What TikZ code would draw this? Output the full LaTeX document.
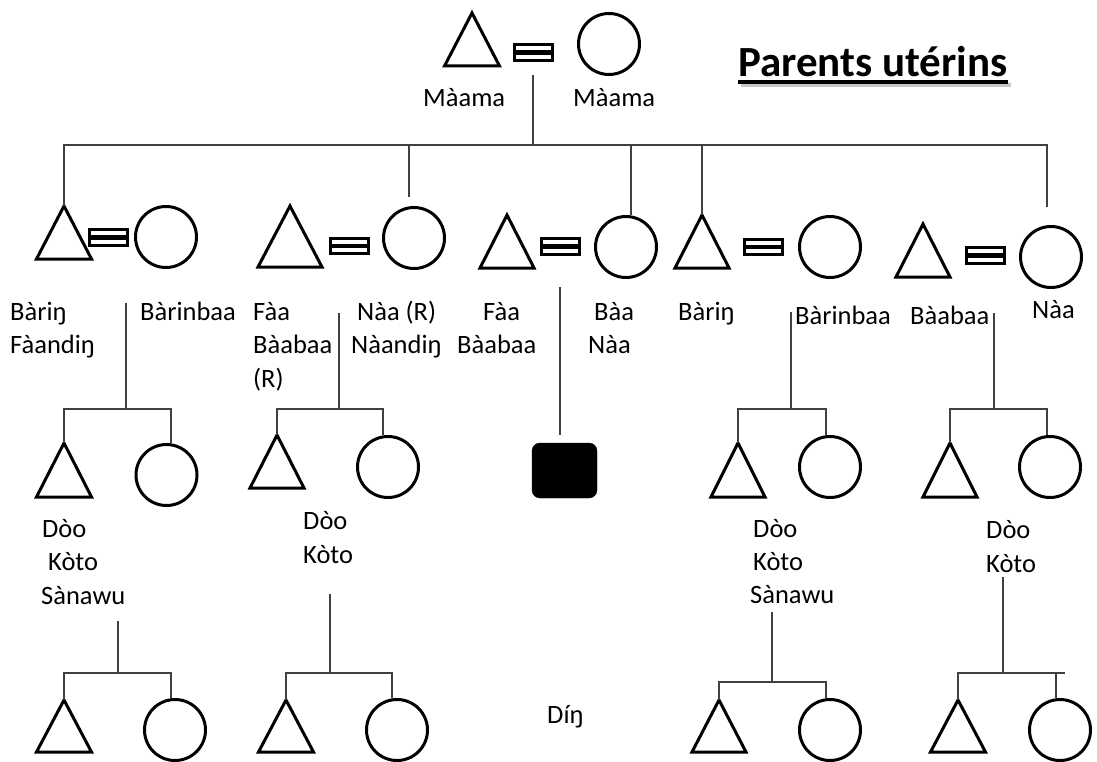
\documentclass[tikz,border=0pt]{standalone}
\usepackage{fontspec}
\setmainfont{Carlito}
\newcommand\trig[4]{\coordinate (#1) at (#2);\draw[shp] (#1) -- ++({#3/2},{#4}) -- ++({-#3},0) -- cycle;}
\begin{document}
\begin{tikzpicture}[x=1pt,y=-1pt,
  conn/.style={draw=black!75,line width=1.3pt},
  shp/.style={draw=black,line width=3pt,line join=miter},
  circ/.style={circle,draw=black,line width=3pt,minimum size=61pt,inner sep=0pt},
  eqbox/.style={rectangle,draw=black,line width=3pt,fill=white,minimum width=38pt,minimum height=15.5pt,inner sep=0pt,
    path picture={\fill[black] ([yshift=-2.25pt]path picture bounding box.west) rectangle ([yshift=2.25pt]path picture bounding box.east);}},
  lbl/.style={anchor=base west,inner sep=0pt,font=\fontsize{26.5}{32}\selectfont},
  ttl/.style={anchor=base west,inner sep=0pt,font=\fontsize{43}{50}\selectfont\bfseries},
  blk/.style={rectangle,rounded corners=8pt,fill=black,draw=black,minimum width=65pt,minimum height=55pt,inner sep=0pt}]
\useasboundingbox (0,0) rectangle (1097,762);
% title
\node[ttl] (ttl) at (738,77) {Parents utérins};
\draw[line width=4pt,black!22] ([xshift=3pt,yshift=-8pt]ttl.base west) -- ([xshift=3pt,yshift=-8pt]ttl.base east);
\draw[line width=3.5pt] ([yshift=-5pt]ttl.base west) -- ([yshift=-5pt]ttl.base east);
% generation 1
\trig{t0}{472,13}{55}{53}
\node[eqbox] (e0) at (533.5,52.5) {};
\node[circ] (c0) at (609,44) {};
\node[lbl] (l0a) at (423,107) {Màama};
\node[lbl] (l0b) at (573,107) {Màama};
\coordinate (s0) at (533,75);
\coordinate (bar0) at (533,145);
% generation 2
\trig{t1}{64,206}{55}{53}
\node[eqbox] (e1) at (108.5,237.5) {};
\node[circ] (c1) at (166,237) {};
\trig{t2}{290,206}{64}{61}
\node[eqbox] (e2) at (349,246) {};
\node[circ] (c2) at (414,238) {};
\trig{t3}{507,215}{54}{53}
\node[eqbox] (e3) at (560,246.5) {};
\node[circ] (c3) at (626,247) {};
\trig{t4}{702,215}{54}{53}
\node[eqbox] (e4) at (763.5,247) {};
\node[circ] (c4) at (830,247) {};
\trig{t5}{923,224}{54}{53}
\node[eqbox] (e5) at (985,255.5) {};
\node[circ] (c5) at (1051,257) {};
\coordinate (d2) at (409,197);
\coordinate (d3) at (631,215);
\coordinate (d5) at (1047,207);
\draw[conn] (s0) -- (bar0);
\draw[conn] (t1) -- (t1 |- bar0) -- (d5 |- bar0) -- (d5);
\draw[conn] (d2) -- (d2 |- bar0);
\draw[conn] (d3) -- (d3 |- bar0);
\draw[conn] (t4) -- (t4 |- bar0);
% labels generation 2
\node[lbl] (l1a) at (10,320) {Bàriŋ};
\node[lbl] (l1b) at (10,353) {Fàandiŋ};
\node[lbl] (l1c) at (140,320) {Bàrinbaa};
\node[lbl] (l2a) at (253,320) {Fàa};
\node[lbl] (l2b) at (253,353) {Bàabaa};
\node[lbl] (l2c) at (253,387) {(R)};
\node[lbl] (l2d) at (357,320) {Nàa (R)};
\node[lbl] (l2e) at (351,353) {Nàandiŋ};
\node[lbl] (l3a) at (483,320) {Fàa};
\node[lbl] (l3b) at (457,353) {Bàabaa};
\node[lbl] (l3c) at (594,320) {Bàa};
\node[lbl] (l3d) at (588,353) {Nàa};
\node[lbl] (l4a) at (678,320) {Bàriŋ};
\node[lbl] (l4b) at (795,324) {Bàrinbaa};
\node[lbl] (l5a) at (910,324) {Bàabaa};
\node[lbl] (l5b) at (1032,318) {Nàa};
% generation 3
\trig{t6}{64,443}{55}{54}
\node[circ] (c6) at (166.5,475) {};
\trig{t7}{277,435}{54}{53}
\node[circ] (c7) at (388,467) {};
\node[blk] (sq) at (564.5,470.5) {};
\trig{t8}{738,443}{54}{54}
\node[circ] (c8) at (830,467) {};
\trig{t9}{950,443}{54}{54}
\node[circ] (c9) at (1050,467) {};
\coordinate (s1) at (126,303); \coordinate (b1) at (126,409); \coordinate (r1) at (171,443);
\draw[conn] (s1) -- (b1); \draw[conn] (t6) |- (b1) -| (r1);
\coordinate (s2) at (339,313); \coordinate (b2) at (339,409); \coordinate (r2) at (383,435);
\draw[conn] (s2) -- (b2); \draw[conn] (t7) |- (b2) -| (r2);
\coordinate (s3) at (560,287); \coordinate (r3) at (560,435);
\draw[conn] (s3) -- (r3);
\coordinate (s4) at (791,312); \coordinate (b4) at (791,409); \coordinate (r4) at (826,435);
\draw[conn] (s4) -- (b4); \draw[conn] (t8) |- (b4) -| (r4);
\coordinate (s5) at (994,313); \coordinate (b5) at (994,409); \coordinate (r5) at (1047,435);
\draw[conn] (s5) -- (b5); \draw[conn] (t9) |- (b5) -| (r5);
% labels generation 3
\node[lbl] (l6a) at (42,537) {Dòo};
\node[lbl] (l6b) at (48,570) {Kòto};
\node[lbl] (l6c) at (41,604) {Sànawu};
\node[lbl] (l7a) at (303,529) {Dòo};
\node[lbl] (l7b) at (303,563) {Kòto};
\node[lbl] (l8a) at (753,537) {Dòo};
\node[lbl] (l8b) at (753,570) {Kòto};
\node[lbl] (l8c) at (750,603) {Sànawu};
\node[lbl] (l9a) at (986,538) {Dòo};
\node[lbl] (l9b) at (986,572) {Kòto};
\node[lbl] (ldin) at (547,723) {Díŋ};
% generation 4
\trig{t10}{64,700}{55}{52}
\node[circ] (c10) at (175,730) {};
\trig{t11}{286,700}{55}{52}
\node[circ] (c11) at (397,730) {};
\trig{t12}{719,700}{54}{52}
\node[circ] (c12) at (830,730) {};
\trig{t13}{958,700}{55}{52}
\node[circ] (c13) at (1060,730) {};
\coordinate (s6) at (118,621); \coordinate (b6) at (118,673); \coordinate (r6) at (171,698);
\draw[conn] (s6) -- (b6); \draw[conn] (t10) |- (b6) -| (r6);
\coordinate (s7) at (330,594); \coordinate (b7) at (330,673); \coordinate (r7) at (392,698);
\draw[conn] (s7) -- (b7); \draw[conn] (t11) |- (b7) -| (r7);
\coordinate (s8) at (772,612); \coordinate (b8) at (772,682); \coordinate (r8) at (826,698);
\draw[conn] (s8) -- (b8); \draw[conn] (t12) |- (b8) -| (r8);
\coordinate (s9) at (1003,577); \coordinate (b9) at (1003,673); \coordinate (r9) at (1056,698); \coordinate (e9) at (1065,673);
\draw[conn] (s9) -- (b9); \draw[conn] (t13) |- (b9) -- (e9); \draw[conn] (r9) -- (r9 |- b9);
\end{tikzpicture}
\end{document}
